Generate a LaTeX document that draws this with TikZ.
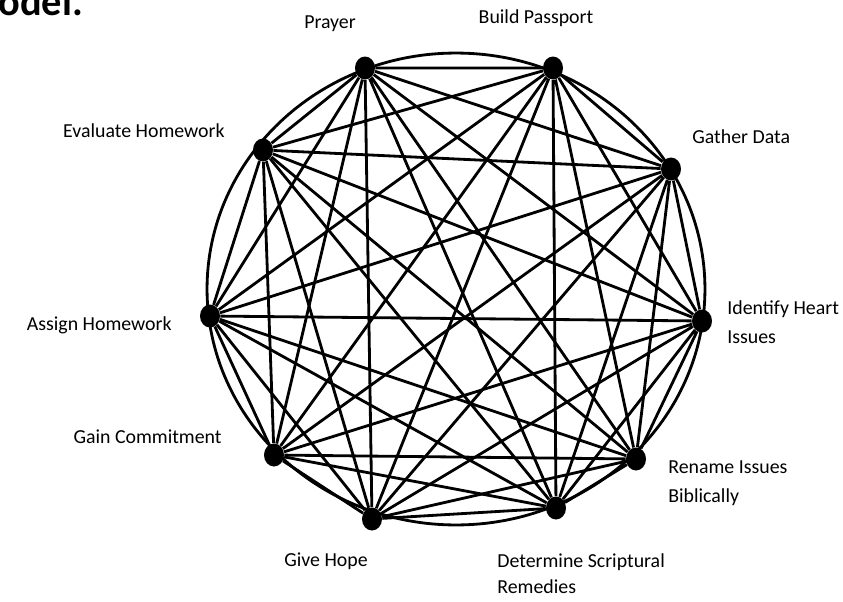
\documentclass[tikz,border=0pt]{standalone}
\usepackage{fontspec}
\setmainfont{Carlito}
\usetikzlibrary{shapes.geometric}

\begin{document}
\begin{tikzpicture}[
    x=0.02cm, y=-0.02cm,
    stop/.style={ellipse, fill=black, inner sep=0pt, minimum width=0.4cm, minimum height=0.46cm},
    tag/.style={font=\fontsize{11.3}{16.4}\selectfont, inner sep=0pt, align=left},
    link/.style={line width=1.6pt}
]
    \useasboundingbox (0,0) rectangle (843,602);

    \node[font=\fontsize{23}{27}\selectfont\bfseries, inner sep=0pt, anchor=base west] (title) at (-2,15) {odel.};

    \node[draw, ellipse, line width=1.6pt, minimum width=9.96cm, minimum height=9.44cm] (ring) at (456,289) {};

    \node[stop] (pr) at (365,68) {};
    \node[stop] (bp) at (553,68) {};
    \node[stop] (gd) at (671,169) {};
    \node[stop] (ih) at (702,321) {};
    \node[stop] (ri) at (636,459) {};
    \node[stop] (dr) at (556,508) {};
    \node[stop] (gh) at (372,519) {};
    \node[stop] (gc) at (274,455) {};
    \node[stop] (ah) at (210,316) {};
    \node[stop] (eh) at (263,150) {};

    \node[tag, anchor=base] (lpr) at (330,28) {Prayer};
    \node[tag, anchor=base] (lbp) at (536,23) {Build Passport};
    \node[tag, anchor=base west] (lgd) at (692,143) {Gather Data};
    \node[tag, anchor=base west] (lih) at (727,343) {Identify Heart\\Issues};
    \node[tag, anchor=base west] (lri) at (668,502) {Rename Issues\\Biblically};
    \node[tag, anchor=base west, font=\fontsize{11.3}{14.5}\selectfont] (ldr) at (497,593) {Determine Scriptural\\Remedies};
    \node[tag, anchor=base] (lgh) at (326,566) {Give Hope};
    \node[tag, anchor=base east] (lgc) at (222,443) {Gain Commitment};
    \node[tag, anchor=base east] (lah) at (172,330) {Assign Homework};
    \node[tag, anchor=base east] (leh) at (225,137) {Evaluate Homework};

    \draw[link] (pr) -- (bp) (pr) -- (gd) (pr) -- (ih) (pr) -- (ri) (pr) -- (dr) (pr) -- (gh) (pr) -- (gc) (pr) -- (ah) (pr) -- (eh);
    \draw[link] (bp) -- (gd) (bp) -- (ih) (bp) -- (ri) (bp) -- (dr) (bp) -- (gh) (bp) -- (gc) (bp) -- (ah) (bp) -- (eh);
    \draw[link] (gd) -- (ih) (gd) -- (ri) (gd) -- (dr) (gd) -- (gh) (gd) -- (gc) (gd) -- (ah) (gd) -- (eh);
    \draw[link] (ih) -- (ri) (ih) -- (dr) (ih) -- (gh) (ih) -- (gc) (ih) -- (ah) (ih) -- (eh);
    \draw[link] (ri) -- (dr) (ri) -- (gh) (ri) -- (gc) (ri) -- (ah) (ri) -- (eh);
    \draw[link] (dr) -- (gh) (dr) -- (gc) (dr) -- (ah) (dr) -- (eh);
    \draw[link] (gh) -- (gc) (gh) -- (ah) (gh) -- (eh);
    \draw[link] (gc) -- (ah) (gc) -- (eh);
    \draw[link] (ah) -- (eh);
\end{tikzpicture}
\end{document}
